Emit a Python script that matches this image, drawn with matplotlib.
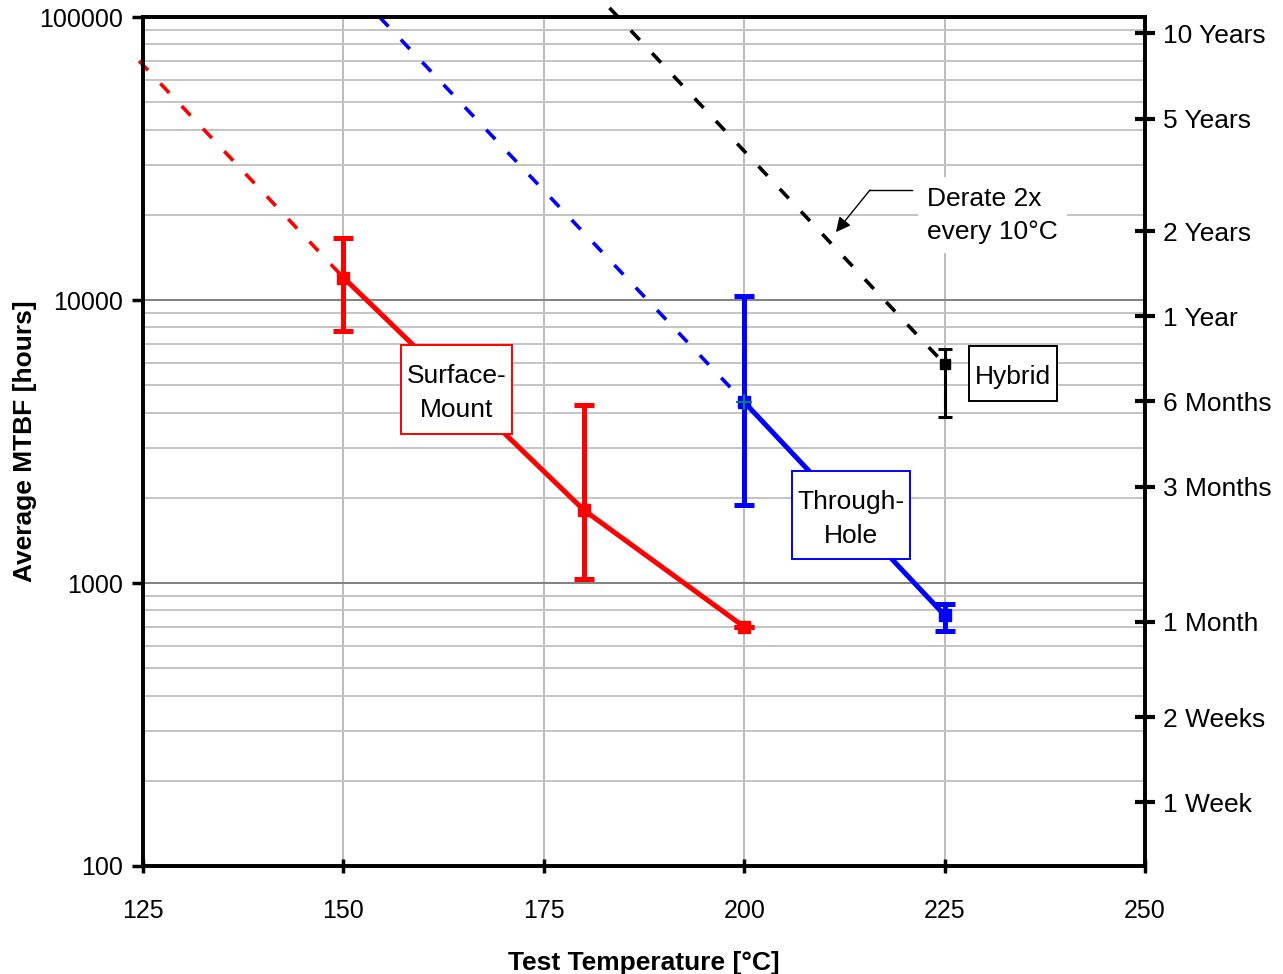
import numpy as np
import matplotlib.pyplot as plt
from matplotlib.patches import Rectangle
from matplotlib.ticker import FixedLocator, NullFormatter

plt.rcParams['font.family'] = ['Liberation Sans', 'DejaVu Sans']

# measured points
sm_temp = [150, 180, 200]
sm_mtbf = [12000, 1810, 700]
sm_lo = [7770, 1030, 700]
sm_hi = [16500, 4250, 700]

th_temp = [200, 225]
th_mtbf = [4360, 770]
th_lo = [1890, 677]
th_hi = [10300, 843]

hy_temp = [225]
hy_mtbf = [5940]
hy_lo = [3860]
hy_hi = [6710]

# derate 2x / 10C extrapolation lines
sm_ext_t = [124.5, 150]
sm_ext_v = [70000, 12000]
th_ext_t = [154.5, 200]
th_ext_v = [100000, 4360]
hy_ext_t = [183.2, 225]
hy_ext_v = [107700, 5940]

# right axis (hours)
life_hours = [87600, 43800, 17520, 8760, 4380, 2190, 730, 336, 168]
life_labels = ['10 Years', '5 Years', '2 Years', '1 Year', '6 Months',
               '3 Months', '1 Month', '2 Weeks', '1 Week']

FS = 19

fig = plt.figure(figsize=(12.83, 9.74), dpi=100)
ax = fig.add_axes([0.1115, 0.1109, 0.7809, 0.8716])
ax.set_xlim(125, 250)
ax.set_yscale('log')
ax.set_ylim(100, 100000)

# grid
ax.set_xticks([125, 150, 175, 200, 225, 250])
ax.set_yticks([100, 1000, 10000, 100000])
ax.set_yticklabels(['100', '1000', '10000', '100000'])
ax.yaxis.set_minor_locator(FixedLocator([m * 10**d for d in range(2, 5) for m in range(2, 10)]))
ax.yaxis.set_minor_formatter(NullFormatter())
ax.grid(True, axis='x', which='major', color='#b0b0b0', lw=1.2)
ax.grid(True, axis='y', which='major', color='#808080', lw=1.4)
ax.grid(True, axis='y', which='minor', color='#c4c4c4', lw=1.4)
ax.set_axisbelow(True)

for s in ax.spines.values():
    s.set_linewidth(2.6)
ax.tick_params(axis='x', direction='inout', length=10, width=2.5, pad=19, labelsize=18)
ax.tick_params(axis='y', which='major', direction='out', length=8, width=2.5, pad=6.5, labelsize=18)
ax.tick_params(axis='y', which='minor', length=0)

ax.set_xlabel('Test Temperature [°C]', fontsize=FS, fontweight='bold', labelpad=20)
ax.set_ylabel('Average MTBF [hours]', fontsize=FS, fontweight='bold', labelpad=1.5)

dash = (3.6, 5)
ax.plot(sm_ext_t, sm_ext_v, color='red', lw=2.6, dashes=dash, clip_on=False)
ax.plot(th_ext_t, th_ext_v, color='blue', lw=2.6, dashes=dash, clip_on=False)
ax.plot(hy_ext_t, hy_ext_v, color='black', lw=2.6, dashes=dash, clip_on=False)

def err(lo, mid, hi):
    return [np.array(mid) - np.array(lo), np.array(hi) - np.array(mid)]

ax.errorbar(sm_temp, sm_mtbf, yerr=err(sm_lo, sm_mtbf, sm_hi), color='red', lw=3.6,
            elinewidth=3.6, capsize=7, capthick=3.6, marker='s', ms=8, zorder=4)
ax.errorbar(th_temp, th_mtbf, yerr=err(th_lo, th_mtbf, th_hi), color='blue', lw=3.6,
            elinewidth=3.6, capsize=7, capthick=3.6, marker='s', ms=8, zorder=4)
ax.errorbar(hy_temp, hy_mtbf, yerr=err(hy_lo, hy_mtbf, hy_hi), color='black', lw=2.2,
            elinewidth=2.2, capsize=5, capthick=2.2, marker='s', ms=7, zorder=4)
ax.plot(th_temp[:1], th_mtbf[:1], marker='+', color='#00807a', ms=12, mew=1.5, zorder=5)

# label boxes: (x0, x1, y0, y1) in data units
def label_box(x0, x1, y0, y1, txt, ec):
    ax.add_patch(Rectangle((x0, y0), x1 - x0, y1 - y0, fc='white', ec=ec, lw=1.4, zorder=6))
    ax.text((x0 + x1) / 2, np.sqrt(y0 * y1) * 0.97, txt, fontsize=FS, ha='center', va='center',
            linespacing=1.5, zorder=7)

label_box(157.2, 171.0, 3362, 6934, 'Surface-\nMount', 'red')
label_box(206.0, 220.7, 1215, 2488, 'Through-\nHole', 'blue')
label_box(228.0, 239.0, 4397, 6879, 'Hybrid', 'black')

ax.text(222.8, 19900, 'Derate 2x\nevery 10°C', fontsize=FS, ha='left', va='center', zorder=6,
        linespacing=1.5,
        bbox=dict(boxstyle='square,pad=0.35', fc='white', ec='none'))
ax.plot([220.9, 215.7], [24490, 24490], color='black', lw=1, zorder=6)
ax.annotate('', xy=(211.45, 17380), xytext=(215.7, 24490), zorder=6,
            arrowprops=dict(arrowstyle='-|>', color='black', lw=1,
                            mutation_scale=22, shrinkA=0, shrinkB=0))

# right axis
ax2 = ax.twinx()
ax2.set_yscale('log')
ax2.set_ylim(100, 100000)
ax2.set_yticks(life_hours)
ax2.set_yticklabels(life_labels)
ax2.yaxis.set_minor_locator(FixedLocator([]))
ax2.tick_params(axis='y', direction='inout', length=14, width=3, pad=6, labelsize=FS)
for s in ax2.spines.values():
    s.set_linewidth(2.6)

fig.savefig('out.png', dpi=100)
